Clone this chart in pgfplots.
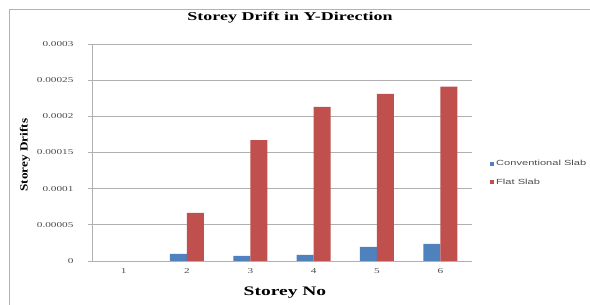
\documentclass[border=0pt]{standalone}
\usepackage{pgfplots}
\pgfplotsset{compat=1.18}
\usepackage{fontspec}
\setmainfont{Liberation Serif}
\setsansfont{Liberation Sans}
\definecolor{cblue}{HTML}{4F81BD}
\definecolor{cred}{HTML}{C0504D}
\definecolor{gridc}{HTML}{B0B0B0}
\newcommand{\hs}[1]{\scalebox{1.5}[1]{#1}}
\begin{document}
\begin{tikzpicture}[x=1pt,y=1pt]
\useasboundingbox (-92,-44) rectangle (498,261);
\draw[gray!60, line width=1pt] (-82,-60) -- (-82,251) -- (520,251);
\begin{axis}[
  at={(0,0)}, anchor=south west,
  scale only axis, width=380pt, height=217pt,
  ybar, bar width=17pt,
  xmin=0.5, xmax=6.5, ymin=0, ymax=0.0003,
  xtick={1,2,3,4,5,6},
  xticklabels={\hs{1},\hs{2},\hs{3},\hs{4},\hs{5},\hs{6}},
  ytick={0,0.00005,0.0001,0.00015,0.0002,0.00025,0.0003},
  yticklabels={\hs{0},\hs{0.00005},\hs{0.0001},\hs{0.00015},\hs{0.0002},\hs{0.00025},\hs{0.0003}},
  scaled y ticks=false,
  ymajorgrids, grid style={gridc, line width=0.8pt},
  axis x line*=bottom, axis y line*=left,
  x axis line style={gridc, line width=0.8pt},
  y axis line style={gridc, line width=0.8pt},
  tick align=outside,
  major tick length=4pt,
  xtick style={draw=none},
  ytick style={gridc, line width=0.8pt},
  tick label style={font=\fontsize{7.5}{8}\selectfont, text=black!70},
  yticklabel style={xshift=-11pt},
  /pgf/number format/assume math mode=true,
  title={\hs{\fontsize{12}{14}\selectfont\bfseries Storey Drift in Y-Direction}},
  title style={at={(198pt,237pt)}, anchor=center},
  xlabel={\hs{\fontsize{13}{14}\selectfont\bfseries Storey No}},
  xlabel style={at={(193pt,-32pt)}, anchor=center},
  ylabel={\scalebox{1.2}[1]{\fontsize{11}{12}\selectfont\bfseries Storey Drifts}},
  ylabel style={at={(-67pt,106pt)}, anchor=center},
  legend style={at={(398pt,88pt)}, anchor=west, draw=none, fill=none,
    font=\sffamily\fontsize{7.4}{9}\selectfont, text=black!70,
    row sep=8pt, inner sep=0pt},
  legend image code/.code={\draw[#1, draw=none] (0pt,-2pt) rectangle (4pt,2pt);},
  legend cell align=left,
  clip=false,
]
\addplot[fill=cblue, draw=none, bar shift=-8.5pt] coordinates {(2,0.0000097) (3,0.0000070) (4,0.0000085) (5,0.0000194) (6,0.0000235)};
\addplot[fill=cred, draw=none, bar shift=8.5pt] coordinates {(2,0.0000665) (3,0.000167) (4,0.000213) (5,0.000231) (6,0.000241)};
\legend{\hs{Conventional Slab}, \hs{Flat Slab}}
\end{axis}
\end{tikzpicture}
\end{document}
